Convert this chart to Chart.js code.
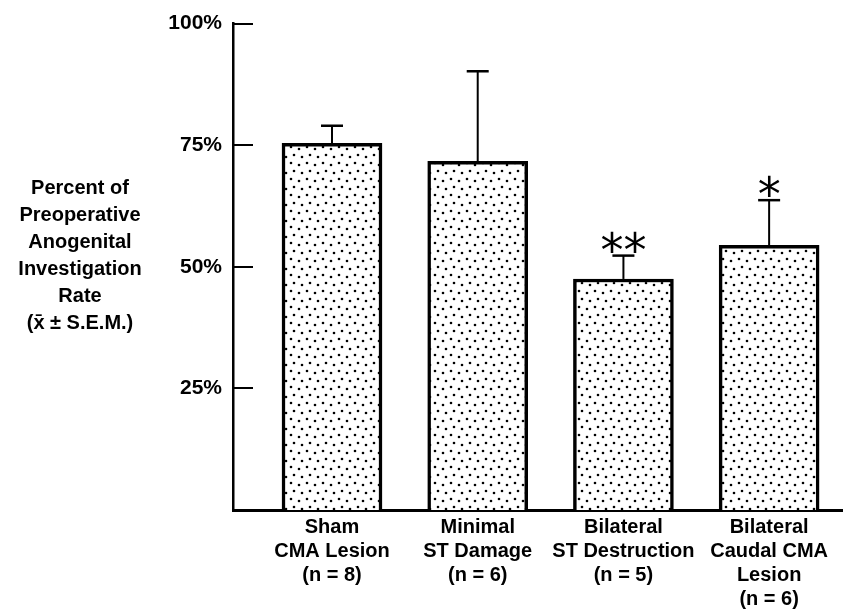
<!DOCTYPE html>
<html>
<head>
<meta charset="utf-8">
<script src="https://cdn.jsdelivr.net/npm/chart.js@4.4.1/dist/chart.umd.min.js"></script>
<style>
  html, body { margin: 0; padding: 0; background: #ffffff; }
  #wrap { width: 843px; height: 610px; position: relative; }
</style>
</head>
<body>
<div id="wrap"><canvas id="c" width="843" height="610"></canvas></div>
<script>
// ---- data ----
const categories = [
  ['Sham', 'CMA Lesion', '(n = 8)'],
  ['Minimal', 'ST Damage', '(n = 6)'],
  ['Bilateral', 'ST Destruction', '(n = 5)'],
  ['Bilateral', 'Caudal CMA', 'Lesion', '(n = 6)']
];
const meanValues = [75.4, 71.7, 47.5, 54.4];
const semUpper   = [79.0, 90.2, 52.3, 63.7];
const significance = ['', '', '**', '*'];
const yTickValues = [0, 25, 50, 75, 100];
const yTitleLines = ['Percent of', 'Preoperative', 'Anogenital', 'Investigation', 'Rate', '(x\u0304 \u00b1 S.E.M.)'];

// ---- stipple pattern ----
function makePattern() {
  const t = document.createElement('canvas');
  t.width = 16; t.height = 16;
  const g = t.getContext('2d');
  g.fillStyle = '#ffffff';
  g.fillRect(0, 0, 16, 16);
  g.fillStyle = '#000000';
  const dots = [[3, 3], [11, 5], [6, 11], [14, 13]];
  dots.forEach(([x, y]) => { g.beginPath(); g.arc(x, y, 1.3, 0, Math.PI * 2); g.fill(); });
  return document.getElementById('c').getContext('2d').createPattern(t, 'repeat');
}
const stipple = makePattern();

const FONT = '"Liberation Sans", Arial, Helvetica, sans-serif';
Chart.defaults.font.family = FONT;
Chart.defaults.font.weight = 'bold';
Chart.defaults.color = '#000000';

const decorations = {
  id: 'decorations',
  afterDatasetsDraw(chart) {
    const ctx = chart.ctx;
    const xs = chart.scales.x, ys = chart.scales.y;
    const area = chart.chartArea;
    ctx.save();
    ctx.strokeStyle = '#000';
    // inward y ticks
    ctx.lineWidth = 2;
    ys.ticks.forEach(t => {
      if (t.value === 0) return;
      const y = Math.round(ys.getPixelForValue(t.value));
      ctx.beginPath();
      ctx.moveTo(area.left, y);
      ctx.lineTo(area.left + 20, y);
      ctx.stroke();
    });
    // error bars and significance stars
    meanValues.forEach((m, i) => {
      const x = xs.getPixelForValue(i);
      const y0 = ys.getPixelForValue(m);
      const y1 = ys.getPixelForValue(semUpper[i]);
      ctx.lineWidth = 2;
      ctx.beginPath();
      ctx.moveTo(x, y0);
      ctx.lineTo(x, y1);
      ctx.stroke();
      ctx.lineWidth = 2.5;
      ctx.beginPath();
      ctx.moveTo(x - 11, y1);
      ctx.lineTo(x + 11, y1);
      ctx.stroke();
      const s = significance[i];
      if (s) {
        ctx.font = '46px "DejaVu Sans", sans-serif';
        ctx.textAlign = 'center';
        ctx.textBaseline = 'alphabetic';
        ctx.fillStyle = '#000';
        const mt = ctx.measureText(s);
        const cy = y1 - 14;
        ctx.fillText(s, x, cy + mt.actualBoundingBoxAscent - (mt.actualBoundingBoxAscent + mt.actualBoundingBoxDescent) / 2);
      }
    });
    // horizontal multi-line y title
    ctx.font = 'bold 20px ' + FONT;
    ctx.textAlign = 'center';
    ctx.textBaseline = 'middle';
    ctx.fillStyle = '#000';
    yTitleLines.forEach((line, k) => {
      ctx.fillText(line, 80, 188 + 27 * k);
    });
    ctx.restore();
  }
};

const ctx = document.getElementById('c').getContext('2d');
new Chart(ctx, {
  type: 'bar',
  data: {
    datasets: [{
      data: meanValues.map((v, i) => ({ x: i, y: v })),
      backgroundColor: stipple,
      borderColor: '#000000',
      borderWidth: 3.5,
      borderSkipped: 'bottom',
      barThickness: 100
    }]
  },
  options: {
    responsive: false,
    animation: false,
    layout: { padding: { top: 19, right: 0, left: 0, bottom: 0 } },
    plugins: { legend: { display: false }, tooltip: { enabled: false } },
    scales: {
      x: {
        type: 'linear',
        offset: false,
        min: -0.6795,
        max: 3.507,
        grid: { display: false, drawTicks: false, offset: false },
        border: { display: true, color: '#000', width: 3 },
        afterBuildTicks(scale) { scale.ticks = categories.map((c, i) => ({ value: i })); },
        afterFit(scale) { scale.height = 100; },
        ticks: {
          padding: 5,
          autoSkip: false,
          maxRotation: 0,
          minRotation: 0,
          font: { size: 20, weight: 'bold', lineHeight: 1.2 },
          color: '#000',
          callback: (v) => (Number.isInteger(v) && categories[v]) ? categories[v] : ''
        }
      },
      y: {
        min: 0,
        max: 100,
        grid: { display: false, drawTicks: false },
        border: { display: true, color: '#000', width: 2.5 },
        afterBuildTicks(scale) { scale.ticks = yTickValues.map(v => ({ value: v })); },
        afterFit(scale) { scale.width = 233; },
        ticks: {
          padding: 11,
          font: { size: 21, weight: 'bold' },
          color: '#000',
          callback: (v) => v === 0 ? '' : v + '%'
        }
      }
    }
  },
  plugins: [decorations]
});
</script>
</body>
</html>
